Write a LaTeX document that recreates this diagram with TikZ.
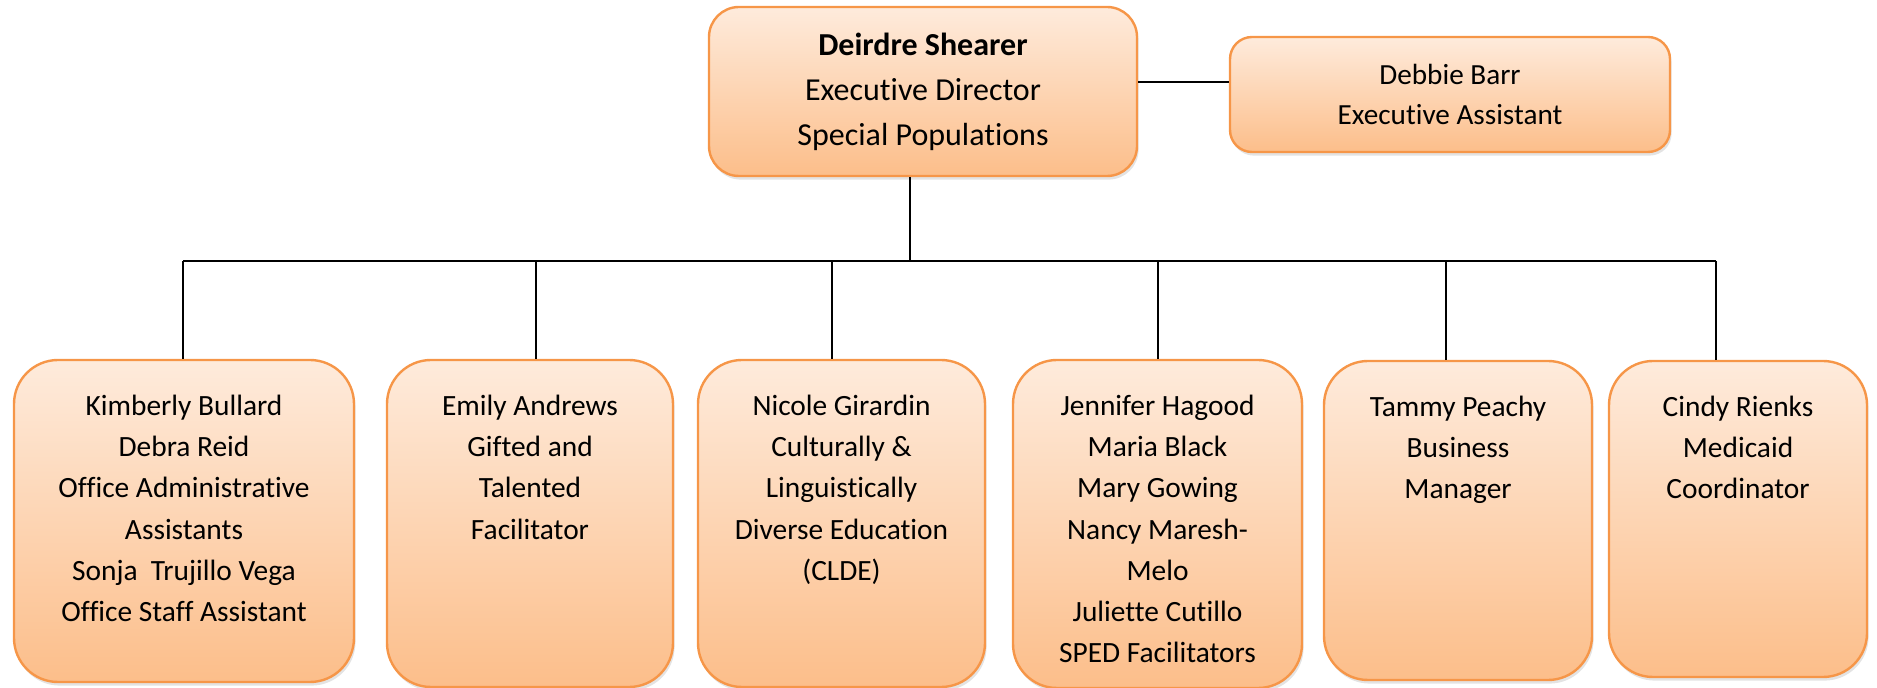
\documentclass[tikz,border=0pt]{standalone}
\usepackage{fontspec}
\setmainfont{Carlito}[Ligatures=NoCommon]
\usetikzlibrary{shadows}

\definecolor{peachtop}{RGB}{254,235,220}
\definecolor{peachbot}{RGB}{252,190,138}
\definecolor{peachline}{RGB}{246,150,72}

\newcommand{\stafflines}[1]{\parbox[t]{170pt}{\centering\rule{0pt}{28pt}#1}}

\begin{document}
\begin{tikzpicture}
[every node/.style={inner sep=0pt},
 orgbox/.style={rectangle, draw=peachline, line width=1.2pt, top color=peachtop, bottom color=peachbot,
   drop shadow={shadow xshift=0.8pt, shadow yshift=-1.8pt, opacity=0.22}},
 headbox/.style={orgbox, align=center, font=\fontsize{16}{22.5}\selectfont},
 staffbox/.style={orgbox, rounded corners=22pt},
 stafftext/.style={anchor=north, font=\fontsize{14.7}{20.65}\selectfont},
 link/.style={line width=1pt, color=black}]
\useasboundingbox (0pt, 0pt) rectangle (938.5pt, -344pt);
% top row
\node (dir) [headbox, rounded corners=15pt, minimum width=214pt, minimum height=84.5pt] at (461.5pt, -45.75pt) {\raisebox{-1.5pt}{\textbf{Deirdre Shearer}}\\\raisebox{-1.5pt}{Executive Director}\\\raisebox{-1.5pt}{Special Populations}};
\node (dbr) [headbox, rounded corners=11pt, minimum width=220pt, minimum height=57.5pt, font=\fontsize{14.6}{20}\selectfont] at (725pt, -47.25pt) {Debbie Barr\\Executive Assistant};
% staff boxes
\node (kb) [staffbox, minimum width=170pt, minimum height=161pt] at (92pt, -260.5pt) {};
\node (ea) [staffbox, minimum width=143pt, minimum height=163.5pt] at (265pt, -261.75pt) {};
\node (ng) [staffbox, minimum width=143.5pt, minimum height=163.5pt] at (420.75pt, -261.75pt) {};
\node (jh) [staffbox, minimum width=144.5pt, minimum height=164pt] at (578.75pt, -262pt) {};
\node (tp) [staffbox, minimum width=134pt, minimum height=159.5pt] at (729pt, -260.25pt) {};
\node (cr) [staffbox, minimum width=129pt, minimum height=158pt] at (869pt, -259.5pt) {};
\node (kb-txt) [stafftext] at (kb.north) {\stafflines{Kimberly Bullard\\Debra Reid\\Office Administrative\\Assistants\\Sonja~ Trujillo Vega\\Office Staff Assistant}};
\node (ea-txt) [stafftext] at (ea.north) {\stafflines{Emily Andrews\\Gifted and\\Talented\\Facilitator}};
\node (ng-txt) [stafftext] at (ng.north) {\stafflines{Nicole Girardin\\Culturally \&\\Linguistically\\Diverse Education\\(CLDE)}};
\node (jh-txt) [stafftext] at (jh.north) {\stafflines{Jennifer Hagood\\Maria Black\\Mary Gowing\\Nancy Maresh-\\Melo\\Juliette Cutillo\\SPED Facilitators}};
\node (tp-txt) [stafftext] at (tp.north) {\stafflines{Tammy Peachy\\Business\\Manager}};
\node (cr-txt) [stafftext] at (cr.north) {\stafflines{Cindy Rienks\\Medicaid\\Coordinator}};
% connectors
\coordinate (hub) at (455pt, -130.5pt);
\coordinate (kb-t) at (91.5pt, -130.5pt);
\coordinate (ea-t) at (268pt, -130.5pt);
\coordinate (ng-t) at (416pt, -130.5pt);
\coordinate (jh-t) at (579pt, -130.5pt);
\coordinate (tp-t) at (723pt, -130.5pt);
\coordinate (cr-t) at (858pt, -130.5pt);
\draw [link] (dir.east |- 0pt,-41pt) -- (dbr.west |- 0pt,-41pt);
\draw [link] (dir.south -| hub) -- (hub);
\draw [link] (kb-t) -- (cr-t);
\foreach \n in {kb,ea,ng,jh,tp,cr}
  \draw [link] (\n-t) -- (\n-t |- \n.north);
\end{tikzpicture}
\end{document}
